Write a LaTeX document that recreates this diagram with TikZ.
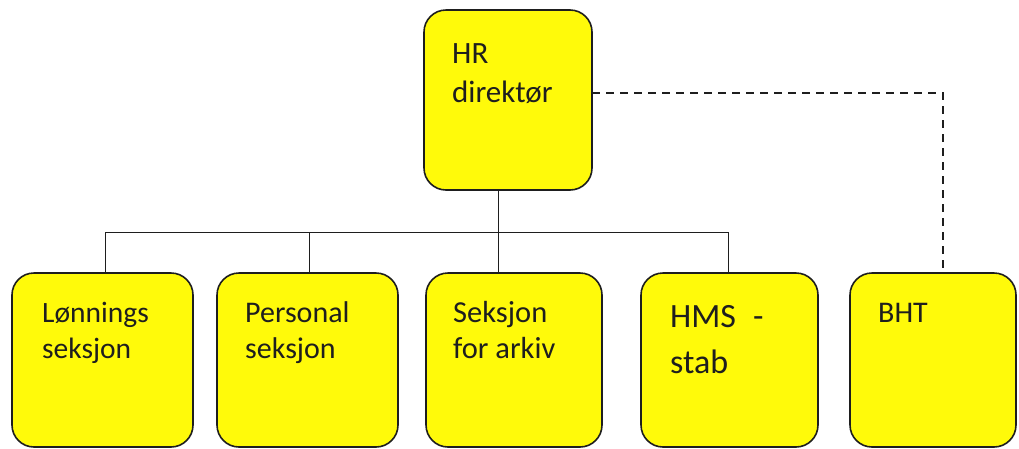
\documentclass[tikz,border=0pt]{standalone}
\usepackage{fontspec}
\setmainfont{Carlito}
\definecolor{boxyellow}{RGB}{255,250,10}
\definecolor{inkdark}{RGB}{30,30,30}
\tikzset{
  orgbox/.style={draw=inkdark, line width=1.6pt, fill=boxyellow, rounded corners=22pt,
    rectangle, inner sep=0pt, outer sep=0pt, anchor=north west},
  boxtext/.style={anchor=north west, inner sep=0pt, align=left, text=inkdark},
  solidlink/.style={draw=inkdark, line width=1pt},
  dashlink/.style={draw=inkdark, line width=1.6pt, dash pattern=on 8pt off 6pt},
}
\begin{document}
\begin{tikzpicture}[x=1pt, y=-1pt]
\useasboundingbox (0,0) rectangle (1019,448);
% boxes
\node[orgbox, minimum width=168pt, minimum height=180pt] (hr) at (424,10) {};
\node[orgbox, minimum width=181pt, minimum height=174pt] (b1) at (12,273) {};
\node[orgbox, minimum width=181pt, minimum height=174pt] (b2) at (217,273) {};
\node[orgbox, minimum width=176pt, minimum height=174pt] (b3) at (426,273) {};
\node[orgbox, minimum width=177pt, minimum height=174pt] (b4) at (641,273) {};
\node[orgbox, minimum width=166pt, minimum height=174pt] (b5) at (850,273) {};
% texts
\node[boxtext, font=\fontsize{31}{39}\selectfont] (thr) at (452,39) {\rule{0pt}{24pt}HR\\direktør};
\node[boxtext, font=\fontsize{29.5}{36}\selectfont] (t1) at (42,298) {\rule{0pt}{24pt}Lønnings\\seksjon};
\node[boxtext, font=\fontsize{30}{36}\selectfont] (t2) at (245,298) {\rule{0pt}{24pt}Personal\\seksjon};
\node[boxtext, font=\fontsize{30.5}{36}\selectfont] (t3) at (453,298) {\rule{0pt}{24pt}Seksjon\\for arkiv};
\node[boxtext, font=\fontsize{34}{46}\selectfont] (t4) at (670,300) {\rule{0pt}{27pt}HMS\hspace{17pt}-\\stab};
\node[boxtext, font=\fontsize{30}{36}\selectfont] (t5) at (878,298) {\rule{0pt}{24pt}BHT};
% helper coordinates
\coordinate (vx) at (498,0);
\coordinate (bus) at (0,232);
\coordinate (c1) at (105,0);
\coordinate (c2) at (309,0);
\coordinate (c4) at (728,0);
\coordinate (dy) at (0,93);
\coordinate (dx) at (943,0);
% solid connectors
\draw[solidlink] (hr.south -| vx) -- (b3.north -| vx);
\draw[solidlink] (b1.north -| c1) -- (bus -| c1) -- (bus -| c4) -- (b4.north -| c4);
\draw[solidlink] (bus -| c2) -- (b2.north -| c2);
% dashed connector
\draw[dashlink] (hr.east |- dy) -| (b5.north -| dx);
\end{tikzpicture}
\end{document}
